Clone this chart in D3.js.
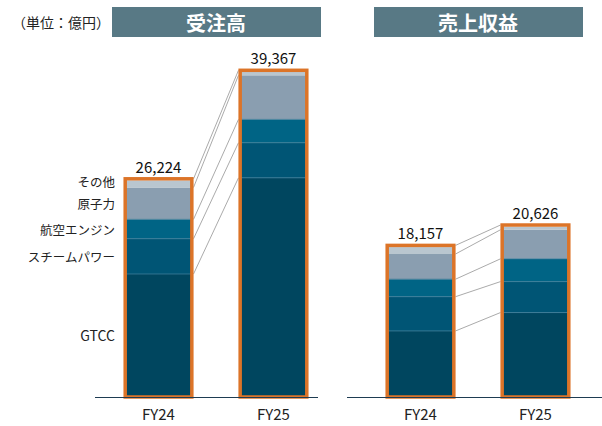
<!DOCTYPE html>
<html>
<head>
<meta charset="utf-8">
<script src="https://cdn.jsdelivr.net/npm/d3@7"></script>
<style>
  body { margin: 0; background: #fff; }
  text { font-family: "Noto Sans CJK JP", "Noto Sans", sans-serif; }
</style>
</head>
<body>
<div id="app"></div>
<script>

// segments, bottom to top
const segments = ['GTCC', 'スチームパワー', '航空エンジン', '原子力', 'その他']
const years = ['FY24', 'FY25']

// 受注高 (億円)
const ordersFY24 = [14900, 4270, 2350, 3860, 844]
const ordersFY25 = [26547, 4250, 2830, 5340, 400]
const ordersTotal = [26224, 39367]

// 売上収益 (億円)
const revenueFY24 = [8000, 4150, 2120, 3050, 837]
const revenueFY25 = [10226, 3750, 2760, 3520, 370]
const revenueTotal = [18157, 20626]

const colors = ['#00465f', '#005575', '#006485', '#8a9eb0', '#b9c6cf']


function run() {
  const width = 602
  const height = 426
  const baseline = 397
  const orange = '#dc7428'

  const svg = d3.select('#app').append('svg')
    .attr('width', width)
    .attr('height', height)

  const y = d3.scaleLinear()
    .domain([0, 39367])
    .range([baseline, 72])

  const color = d3.scaleOrdinal().domain(segments).range(colors)

  // unit label
  svg.append('text')
    .attr('x', 12).attr('y', 22)
    .attr('dominant-baseline', 'central')
    .attr('font-size', 14)
    .attr('fill', '#222')
    .text('（単位：億円）')

  const panels = [
    { title: '受注高', range: [125, 307], axis: [95, 318], values: [ordersFY24, ordersFY25], totals: ordersTotal },
    { title: '売上収益', range: [387, 569], axis: [347, 602], values: [revenueFY24, revenueFY25], totals: revenueTotal },
  ]

  panels.forEach((p, pi) => {
    const x = d3.scaleBand()
      .domain(years)
      .range(p.range)
      .paddingInner(0.417)

    const g = svg.append('g')
    const cx = (p.range[0] + p.range[1]) / 2

    // title box
    g.append('rect')
      .attr('x', cx - 104).attr('y', 7)
      .attr('width', 209).attr('height', 30)
      .attr('fill', '#587985')
    g.append('text')
      .attr('x', cx).attr('y', 22)
      .attr('text-anchor', 'middle')
      .attr('dominant-baseline', 'central')
      .attr('font-size', 20)
      .attr('font-weight', 'bold')
      .attr('fill', '#fff')
      .text(p.title)

    // stack each year
    const stacks = p.values.map(vals => {
      let acc = 0
      return vals.map((v, i) => {
        const d = { key: segments[i], y0: acc, y1: acc + v }
        acc += v
        return d
      })
    })

    // connecting lines between boundaries
    const bounds = stacks.map((s, yi) => s.slice(0, s.length - 1).map(d => d.y1).concat([p.totals[yi]]))
    g.append('g')
      .selectAll('line')
      .data(d3.range(bounds[0].length))
      .join('line')
      .attr('x1', x('FY24') + x.bandwidth() + 1.5)
      .attr('x2', x('FY25') - 1.5)
      .attr('y1', i => i === bounds[0].length - 1 ? y(bounds[0][i]) - 1.7 : y(bounds[0][i]))
      .attr('y2', i => i === bounds[1].length - 1 ? y(bounds[1][i]) - 1.7 : y(bounds[1][i]))
      .attr('stroke', '#a0a0a0')
      .attr('stroke-width', 0.9)

    years.forEach((yr, yi) => {
      const bx = x(yr)
      const bw = x.bandwidth()
      const bar = g.append('g')

      bar.selectAll('rect.seg')
        .data(stacks[yi])
        .join('rect')
        .attr('class', 'seg')
        .attr('x', bx)
        .attr('width', bw)
        .attr('y', d => y(d.y1))
        .attr('height', d => y(d.y0) - y(d.y1))
        .attr('fill', d => color(d.key))

      // thin separators
      bar.selectAll('line.sep')
        .data(stacks[yi].slice(0, 3))
        .join('line')
        .attr('class', 'sep')
        .attr('x1', bx).attr('x2', bx + bw)
        .attr('y1', d => y(d.y1)).attr('y2', d => y(d.y1))
        .attr('stroke', '#3d7c98')
        .attr('stroke-width', 0.8)

      // orange outline
      bar.append('rect')
        .attr('x', bx + 0.2)
        .attr('y', y(p.totals[yi]) - 1.7)
        .attr('width', bw - 0.4)
        .attr('height', baseline - y(p.totals[yi]) + 1.7)
        .attr('fill', 'none')
        .attr('stroke', orange)
        .attr('stroke-width', 3.5)

      // total label
      bar.append('text')
        .attr('x', bx + bw / 2)
        .attr('y', y(p.totals[yi]) - 8)
        .attr('text-anchor', 'middle')
        .attr('font-size', 15)
        .attr('fill', '#111')
        .text(d3.format(',')(p.totals[yi]))

      // year label
      g.append('text')
        .attr('x', bx + bw / 2)
        .attr('y', 413)
        .attr('text-anchor', 'middle')
        .attr('dominant-baseline', 'central')
        .attr('font-size', 15)
        .attr('fill', '#222')
        .text(yr)
    })

    // baseline
    g.append('line')
      .attr('x1', p.axis[0]).attr('x2', p.axis[1])
      .attr('y1', baseline + 0.5).attr('y2', baseline + 0.5)
      .attr('stroke', '#1e3c52')
      .attr('stroke-width', 1.2)

    // segment labels on the first panel
    if (pi === 0) {
      g.append('g')
        .selectAll('text')
        .data(stacks[0])
        .join('text')
        .attr('x', x('FY24') - 10)
        .attr('y', d => d.key === 'その他' ? y(d.y1) + 1 : (y(d.y0) + y(d.y1)) / 2)
        .attr('text-anchor', 'end')
        .attr('dominant-baseline', 'central')
        .attr('font-size', d => d.key === 'GTCC' ? 14 : 12.5)
        .attr('fill', '#222')
        .text(d => d.key)
    }
  })
}

run()
</script>
</body>
</html>
